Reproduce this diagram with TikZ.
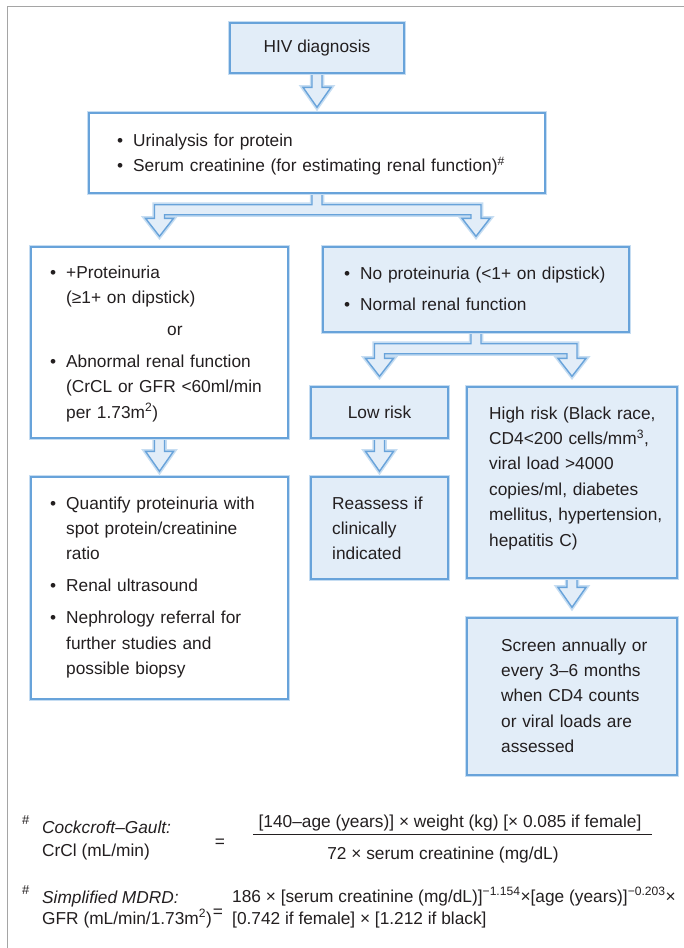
\documentclass[tikz,border=0pt]{standalone}
\usepackage{fontspec}
\setmainfont{Liberation Sans}
\usetikzlibrary{calc}
\pgfdeclarelayer{back}
\pgfdeclarelayer{bg}
\pgfsetlayers{back,bg,main}
\definecolor{bordc}{RGB}{104,163,218}
\definecolor{glowc}{RGB}{198,221,242}
\definecolor{fillc}{RGB}{226,237,248}
\definecolor{framec}{RGB}{165,165,165}
\definecolor{txtc}{RGB}{35,31,32}
\newcommand\mainfs{\fontsize{17.3pt}{25.4pt}\selectfont}
\newcommand\bulx{\makebox[16pt][l]{\textbullet}}
\newcommand\indx{\hspace*{16pt}}
\tikzset{
  boxbase/.style={rectangle, draw=bordc, line width=1.4pt,
    preaction={draw=glowc, line width=4.5pt}, inner sep=0pt,
    text=txtc, font=\mainfs},
  bluebox/.style={boxbase, fill=fillc},
  whitebox/.style={boxbase, fill=white},
  txt/.style={anchor=base west, inner sep=0pt, text=txtc, font=\mainfs, align=left},
  fx/.style={anchor=base west, inner sep=0pt, text=txtc, font=\mainfs},
  arr/.style={draw=bordc, line width=1.4pt, fill=fillc, line join=miter,
    preaction={draw=glowc, line width=4.5pt}},
}
% simple down block arrow: from node #1 to node #2, tip #3 pt above #2
\newcommand\darrow[3]{%
  \draw[arr] let \p1=(#1.south), \p2=(#2.north) in
    (\x1-5pt,\y1) -- (\x1-5pt,\y2+#3pt+20pt) -- (\x1-14pt,\y2+#3pt+20pt)
    -- (\x1,\y2+#3pt) -- (\x1+14pt,\y2+#3pt+20pt) -- (\x1+5pt,\y2+#3pt+20pt)
    -- (\x1+5pt,\y1) -- cycle;}
% split block arrow from node #1 to nodes #2 (left) and #3 (right)
\newcommand\splitarrow[3]{%
  \draw[arr] let \p1=(#1.south), \p2=(#2.north), \p3=(#3.north) in
    (\x1-5pt,\y1) -- (\x1-5pt,\y1-11pt) -- (\x2-5pt,\y1-11pt)
    -- (\x2-5pt,\y2+28pt) -- (\x2-14pt,\y2+28pt) -- (\x2,\y2+10pt)
    -- (\x2+14pt,\y2+28pt) -- (\x2+5pt,\y2+28pt) -- (\x2+5pt,\y1-21pt)
    -- (\x3-5pt,\y1-21pt) -- (\x3-5pt,\y2+28pt) -- (\x3-14pt,\y2+28pt)
    -- (\x3,\y2+10pt) -- (\x3+14pt,\y2+28pt) -- (\x3+5pt,\y2+28pt)
    -- (\x3+5pt,\y1-11pt) -- (\x1+5pt,\y1-11pt) -- (\x1+5pt,\y1) -- cycle;}
\begin{document}
\begin{tikzpicture}[x=1pt,y=-1pt]
\useasboundingbox (0,0) rectangle (684,948);
\begin{pgfonlayer}{back}
\fill[white] (0,0) rectangle (684,948);
\end{pgfonlayer}
\draw[framec, line width=1.3pt] (7.5,948) -- (7.5,6.5) -- (684,6.5);

% boxes
\node[bluebox, minimum width=174pt, minimum height=50pt] (hiv) at (317,48) {HIV diagnosis};
\node[whitebox, minimum width=456pt, minimum height=80pt] (tests) at (317,153) {};
\node[whitebox, minimum width=257pt, minimum height=191pt] (pos) at (159.5,342.5) {};
\node[bluebox, minimum width=306pt, minimum height=85pt] (neg) at (476,289.5) {};
\node[bluebox, minimum width=137pt, minimum height=51pt] (low) at (379.5,412.5) {Low risk};
\node[bluebox, minimum width=210pt, minimum height=191pt] (high) at (572,482.5) {};
\node[whitebox, minimum width=257pt, minimum height=222pt] (mgmt) at (159.5,588) {};
\node[bluebox, minimum width=137pt, minimum height=102pt] (reass) at (379.5,528) {};
\node[bluebox, minimum width=210pt, minimum height=157pt] (screen) at (572,696.5) {};

% box texts
\node[txt, text width=424pt] (testsT) at (117,146)
  {\bulx Urinalysis for protein\\
   \bulx Serum creatinine (for estimating renal function)\textsuperscript{\#}};
\node[txt, text width=234pt] (posT) at (50,278)
  {\bulx +Proteinuria\\
   \indx(≥1+ on dipstick)\\[6.5pt]
   \hspace*{117pt}or\\[6.5pt]
   \bulx Abnormal renal function\\
   \indx(CrCL or GFR <60ml/min\\
   \indx per 1.73m\textsuperscript{2})};
\node[txt, text width=281pt] (negT) at (344,279)
  {\bulx No proteinuria (<1+ on dipstick)\\[6.5pt]
   \bulx Normal renal function};
\node[txt, text width=184pt] (highT) at (489,419)
  {High risk (Black race,\\
   CD4<200 cells/mm\textsuperscript{3},\\
   viral load >4000\\
   copies/ml, diabetes\\
   mellitus, hypertension,\\
   hepatitis C)};
\node[txt, text width=234pt] (mgmtT) at (50,509)
  {\bulx Quantify proteinuria with\\
   \indx spot protein/creatinine\\
   \indx ratio\\[6.5pt]
   \bulx Renal ultrasound\\[6.5pt]
   \bulx Nephrology referral for\\
   \indx further studies and\\
   \indx possible biopsy};
\node[txt, text width=112pt] (reassT) at (332,509)
  {Reassess if\\ clinically\\ indicated};
\node[txt, text width=172pt] (screenT) at (501,651)
  {Screen annually or\\
   every 3–6 months\\
   when CD4 counts\\
   or viral loads are\\
   assessed};

% block arrows
\begin{pgfonlayer}{bg}
\darrow{hiv}{tests}{5}
\splitarrow{tests}{pos}{neg}
\darrow{pos}{mgmt}{5}
\splitarrow{neg}{low}{high}
\darrow{low}{reass}{5}
\darrow{high}{screen}{10}
\end{pgfonlayer}

% formulas
\node[fx, font=\fontsize{13pt}{13pt}\selectfont] (hash1) at (22,824) {\#};
\node[fx] (cg) at (42,833) {\itshape Cockcroft–Gault:};
\node[fx] (crcl) at (42,856) {CrCl (mL/min)};
\node[fx, anchor=center] (eq1) at (220,843) {=};
\node[fx, anchor=base] (num) at (450,827) {[140–age (years)] × weight (kg) [× 0.085 if female]};
\draw[txtc, line width=1pt] (253,834) -- (652,834);
\node[fx, anchor=base] (den) at (443,859) {72 × serum creatinine (mg/dL)};

\node[fx, font=\fontsize{13pt}{13pt}\selectfont] (hash2) at (22,894) {\#};
\node[fx] (md) at (42,903) {\itshape Simplified MDRD:};
\node[fx] (gfr) at (42,924) {GFR (mL/min/1.73m\textsuperscript{2})};
\node[fx, anchor=center] (eq2) at (218,913) {=};
\node[fx] (md1) at (232,902) {186 × [serum creatinine (mg/dL)]\textsuperscript{−1.154}×[age (years)]\textsuperscript{−0.203}×};
\node[fx] (md2) at (232,924) {[0.742 if female] × [1.212 if black]};
\end{tikzpicture}
\end{document}
